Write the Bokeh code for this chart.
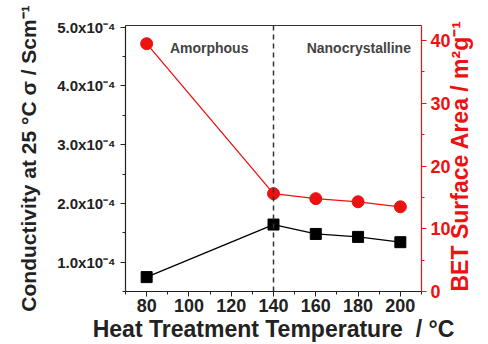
import math
from bokeh.plotting import figure
from bokeh.models import (Range1d, LinearAxis, SingleIntervalTicker, FixedTicker,
                          CustomJSTickFormatter, Span, Label)
from bokeh.embed import file_html
from bokeh.resources import INLINE

temperature = [80, 140, 160, 180, 200]
conductivity = [0.745e-4, 1.64e-4, 1.48e-4, 1.43e-4, 1.34e-4]
bet_area = [39.5, 15.6, 14.8, 14.3, 13.5]
boundary_temp = 140

FONT = "Liberation Sans"
RED = "#ee1111"

p = figure(width=488, height=344, output_backend="svg", toolbar_location=None,
           x_range=Range1d(70, 210), y_range=Range1d(0.5e-4, 5.03e-4),
           min_border_left=125, min_border_right=62, min_border_top=25, min_border_bottom=52)
p.xgrid.visible = False
p.ygrid.visible = False
p.outline_line_color = None
p.background_fill_color = "white"
p.border_fill_color = "white"

p.extra_y_ranges = {"bet": Range1d(0, 42.4)}

def style_axis(ax, color, tick_size, label_size="22px"):
    ax.axis_line_color = color
    ax.major_tick_line_color = color
    ax.minor_tick_line_color = color
    ax.major_label_text_color = color
    ax.axis_label_text_color = color
    ax.major_label_text_font = FONT
    ax.major_label_text_font_style = "bold"
    ax.major_label_text_font_size = tick_size
    ax.axis_label_text_font = FONT
    ax.axis_label_text_font_style = "bold"
    ax.axis_label_text_font_size = label_size
    ax.major_tick_out = 5
    ax.major_tick_in = 0
    ax.minor_tick_out = 3
    ax.minor_tick_in = 0
    ax.axis_line_width = 1.2

# bottom axis
xa = p.xaxis[0]
xa.ticker = SingleIntervalTicker(interval=20, num_minor_ticks=2)
style_axis(xa, "#222222", "18px", "23px")
xa.axis_label = "Heat Treatment Temperature\u00a0\u00a0/ °C"
xa.axis_label_standoff = 1
xa.major_label_standoff = 2

# left axis
ya = p.yaxis[0]
ya.ticker = SingleIntervalTicker(interval=1e-4, num_minor_ticks=2)
ya.formatter = CustomJSTickFormatter(code="return (tick*1e4).toFixed(1) + 'x10\u207b\u2074';")
style_axis(ya, "#222222", "15px", "21px")
ya.axis_label = "Conductivity at 25 °C σ / Scm⁻¹"
ya.axis_label_standoff = 14
ya.major_label_standoff = 5

# right axis (title reads bottom-to-top, like the left one)
ra = LinearAxis(y_range_name="bet", ticker=SingleIntervalTicker(interval=10, num_minor_ticks=2))
style_axis(ra, RED, "18px", "23px")
ra.axis_label = "BET Surface Area / m²g⁻¹"
ra.axis_label_orientation = math.pi / 2
ra.axis_label_align = "start"
ra.axis_label_standoff = 6
ra.major_label_standoff = 4
p.add_layout(ra, "right")

# top border line via an axis without ticks
ta = LinearAxis(ticker=FixedTicker(ticks=[]), major_tick_line_color=None,
                minor_tick_line_color=None, axis_line_color="#333333", axis_line_width=1.2)
p.add_layout(ta, "above")

# dashed boundary
p.add_layout(Span(location=boundary_temp, dimension="height", line_color="#333333",
                  line_dash="5 4", line_width=1.5))

# series
p.line(temperature, conductivity, line_color="black", line_width=1.3)
p.scatter(temperature, conductivity, marker="square", size=11, fill_color="black", line_color="black")

p.line(temperature, bet_area, y_range_name="bet", line_color=RED, line_width=1.3)
p.scatter(temperature, bet_area, y_range_name="bet", marker="circle", size=12,
          fill_color=RED, line_color=RED)

p.add_layout(Label(x=91, y=4.64e-4, text="Amorphous", text_font=FONT, text_font_style="bold",
                   text_font_size="14px", text_baseline="middle", text_align="left"))
p.add_layout(Label(x=205, y=4.64e-4, text="Nanocrystalline", text_font=FONT, text_font_style="bold",
                   text_font_size="14px", text_baseline="middle", text_align="right"))

open("out.html", "w").write(file_html(p, INLINE))
